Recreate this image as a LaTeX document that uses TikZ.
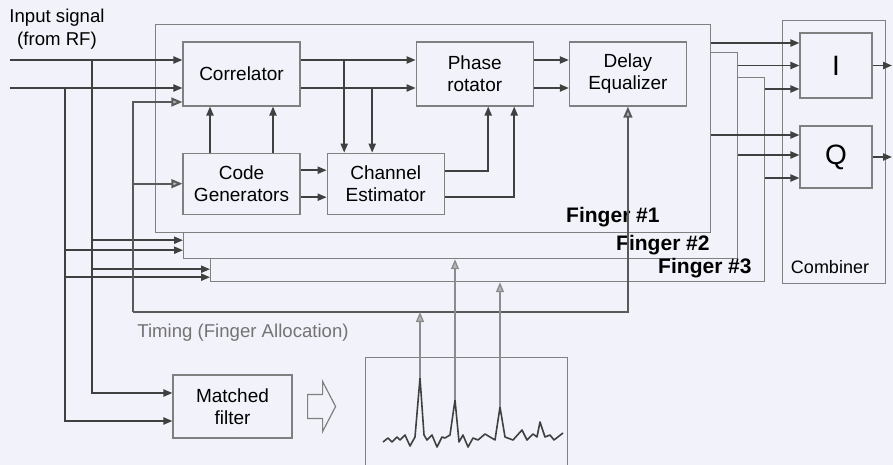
\documentclass[tikz,border=0pt]{standalone}
\usepackage{fontspec}
\setmainfont{Liberation Sans}
\usetikzlibrary{arrows.meta,positioning,calc}
\definecolor{boxgray}{gray}{0.5}
\definecolor{tipgray}{gray}{0.72}
\definecolor{paper}{RGB}{242,243,250}

\begin{document}
\begin{tikzpicture}[
  x=0.5pt, y=-0.5pt,
  block/.style={draw=boxgray, line width=0.6pt, fill=paper, minimum width=58.5pt, minimum height=32pt, align=center, font=\fontsize{9.5}{11}\selectfont, inner sep=1pt},
  finger/.style={draw=boxgray, line width=0.6pt, fill=paper, anchor=north west, inner sep=0pt, minimum width=277pt, minimum height=#1},
  frame/.style={draw=boxgray, line width=0.6pt, anchor=north west, inner sep=0pt},
  sig/.style={-{Triangle[length=4.5pt,width=3.6pt]}, line width=0.8pt, draw=black!75},
  tim/.style={-{Triangle[length=5.5pt,width=4.4pt,fill=tipgray]}, line width=1pt, draw=black!65},
  peak/.style={-{Triangle[length=5pt,width=4pt,fill=tipgray]}, line width=0.7pt, draw=black!45},
  tag/.style={font=\bfseries\fontsize{10.5}{12}\selectfont, anchor=east, inner sep=0pt},
  note/.style={font=\fontsize{9.3}{11}\selectfont, inner sep=0pt},
]
  \useasboundingbox (0,0) rectangle (893,465);
  \fill[paper] (0,0) rectangle (893,465);

  % the three fingers, back to front
  \node[finger=102pt] (f3) at (210,77) {};
  \node[finger=103pt] (f2) at (183,52) {};
  \node[finger=104pt, minimum width=277.5pt] (f1) at (155,24) {};

  \node[block] (corr) at (241.5,74) {Correlator};
  \node[block, right=57.5pt of corr] (pr) {Phase\\rotator};
  \node[block, right=17.5pt of pr] (de) {Delay\\Equalizer};
  \node[block, minimum height=30.5pt, below=23pt of corr] (cg) {Code\\Generators};
  \node[block, minimum height=30.5pt, right=13pt of cg] (ce) {Channel\\Estimator};

  \node[tag] (t1) at (660,217) {Finger \#1};
  \node[tag] (t2) at (710,245) {Finger \#2};
  \node[tag] (t3) at (752,268) {Finger \#3};

  % combiner
  \node[frame, minimum width=51.5pt, minimum height=131.5pt] (comb) at (782,20) {};
  \node[note, font=\fontsize{9}{10}\selectfont] (combl) at (830,267) {Combiner};
  \node[block, minimum width=36pt, minimum height=32.5pt, font=\fontsize{14}{16}\selectfont] (iarm) at (836,65.5) {I};
  \node[block, minimum width=36pt, minimum height=31pt, font=\fontsize{14}{16}\selectfont] (qarm) at (836,157) {Q};

  % search path
  \node[block, minimum width=59.5pt, minimum height=31.5pt] (mf) at (232.5,406.5) {Matched\\filter};
  \node[frame, minimum width=101pt, minimum height=60pt] (spec) at (365,357) {};

  \node[note] (inl) at (57,29) {\shortstack{Input signal\\(from RF)}};
  \node[note, anchor=west, text=black!55] (timl) at (137,333) {Timing (Finger Allocation)};

  \coordinate (inA) at (10,60);
  \coordinate (inB) at (10,88);
  \coordinate (brA) at (92,60);
  \coordinate (brB) at (65,88);
  \coordinate (tl) at (133,312);
  \coordinate (rowA) at ($(corr.east)+(0,-14)$);
  \coordinate (rowB) at ($(corr.east)+(0,14)$);
  \coordinate (f2A) at ($(f2.south west)+(0,-19)$);
  \coordinate (f2B) at ($(f2.south west)+(0,-9)$);
  \coordinate (f3A) at ($(f3.south west)+(0,-13)$);
  \coordinate (f3B) at ($(f3.south west)+(0,-5)$);
  \coordinate (ceA) at ($(ce.north)+(-41.5,0)$);
  \coordinate (ceB) at ($(ce.north)+(-13.5,0)$);
  \coordinate (iA) at ($(iarm.west)+(0,-22.5)$);
  \coordinate (iB) at (iarm.west);
  \coordinate (iC) at ($(iarm.west)+(0,23.5)$);
  \coordinate (qA) at ($(qarm.west)+(0,-22)$);
  \coordinate (qB) at ($(qarm.west)+(0,-2)$);
  \coordinate (qC) at ($(qarm.west)+(0,21)$);
  \coordinate (iout) at (892,66);
  \coordinate (qout) at (892,155);
  \coordinate (pk1) at (420,378);
  \coordinate (pk2) at (455,400);
  \coordinate (pk3) at (500,407);

  % input signal
  \draw[sig] (inA) -- ($(corr.west)+(0,-14)$);
  \draw[sig] (inB) -- ($(corr.west)+(0,14)$);
  \draw[sig] (brA |- f2A) -- (f2A);
  \draw[sig] (brB |- f2B) -- (f2B);
  \draw[sig] (brA |- f3A) -- (f3A);
  \draw[sig] (brB |- f3B) -- (f3B);
  \draw[sig] (brA) |- ($(mf.west)+(0,-13.5)$);
  \draw[sig] (brB) |- ($(mf.west)+(0,14.5)$);

  % inside finger #1
  \draw[sig] (rowA) -- ($(pr.west)+(0,-14)$);
  \draw[sig] (rowB) -- ($(pr.west)+(0,14)$);
  \draw[sig] (ceA |- rowA) -- (ceA);
  \draw[sig] (ceB |- rowB) -- (ceB);
  \draw[sig] ($(cg.north)+(-31.5,0)$) -- ($(corr.south)+(-31.5,0)$);
  \draw[sig] ($(cg.north)+(31.5,0)$) -- ($(corr.south)+(31.5,0)$);
  \draw[sig] ($(cg.east)+(0,-13.5)$) -- ($(ce.west)+(0,-13.5)$);
  \draw[sig] ($(cg.east)+(0,13.5)$) -- ($(ce.west)+(0,13.5)$);
  \draw[sig] ($(ce.east)+(0,-12.5)$) -| ($(pr.south)+(13.5,0)$);
  \draw[sig] ($(ce.east)+(0,13.5)$) -| ($(pr.south)+(39.5,0)$);
  \draw[sig] ($(pr.east)+(0,-14)$) -- ($(de.west)+(0,-14)$);
  \draw[sig] ($(pr.east)+(0,14)$) -- ($(de.west)+(0,14)$);

  % to the combiner
  \draw[sig] (f1.east |- iA) -- (iA);
  \draw[sig] (f2.east |- iB) -- (iB);
  \draw[sig] (f3.east |- iC) -- (iC);
  \draw[sig] (f1.east |- qA) -- (qA);
  \draw[sig] (f2.east |- qB) -- (qB);
  \draw[sig] (f3.east |- qC) -- (qC);
  \draw[sig] (iarm.east) -- (iarm.east -| iout);
  \draw[sig] (qarm.east) -- (qarm.east -| qout);

  % timing
  \draw[tim] (tl) |- ($(corr.west)+(0,28)$);
  \draw[tim] (tl |- cg.west) -- (cg.west);
  \draw[tim] (tl) -| (de.south);

  % matched filter output
  \draw[draw=boxgray, line width=0.6pt, fill=paper] ($(mf.east)+(15,-12)$) -- ++(15,0) -- ++(0,-13)
    -- ++(13,25) -- ++(-13,25) -- ++(0,-13) -- ++(-15,0) -- cycle;
  \draw[line width=0.8pt, black!75, line join=round]
    (383,442) -- (388,438) -- (392,442) -- (397,437) -- (400,440) -- (405,435) -- (410,446)
    -- (415,437) -- (pk1) -- (424,435) -- (427,440) -- (432,435) -- (437,447) -- (442,437)
    -- (445,438) -- (450,435) -- (pk2) -- (459,442) -- (463,435) -- (468,447) -- (473,438)
    -- (478,440) -- (485,434) -- (495,440) -- (pk3) -- (505,437) -- (513,440) -- (522,430)
    -- (527,440) -- (533,434) -- (537,437) -- (540,422) -- (545,437) -- (550,435)
    -- (554,440) -- (563,433);
  \draw[peak] (pk1) -- (pk1 |- tl);
  \draw[peak] (pk2) -- (pk2 |- f2.south);
  \draw[peak] (pk3) -- (pk3 |- f3.south);
\end{tikzpicture}
\end{document}
